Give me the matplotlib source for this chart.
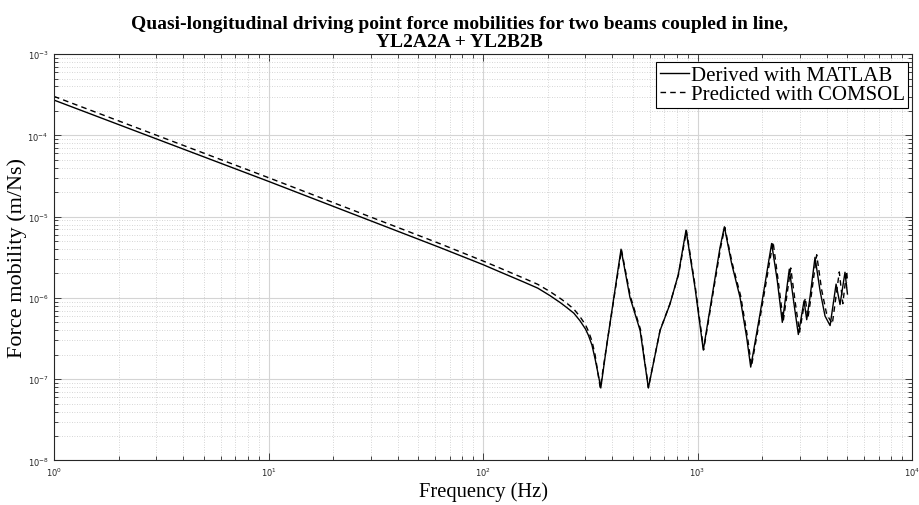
import matplotlib
matplotlib.use("Agg")
import matplotlib.pyplot as plt
import numpy as np
from matplotlib.ticker import LogLocator, NullFormatter, FixedLocator

# Frequencies (Hz) and mobilities (m/Ns)
freq_matlab = [1, 10, 63, 100, 120, 154, 180, 205, 230, 246, 265, 283, 300, 310, 322,
               333, 345, 354, 377, 440, 484, 540,
               590, 669, 744, 814, 884, 973, 1064, 1273, 1334, 1443, 1578, 1695, 1770,
               1955, 2216, 2355, 2485, 2679, 2818, 2951, 3138, 3229, 3345, 3530, 3725,
               3930, 4150, 4426, 4617, 4870, 5000]
mob_matlab = [2.72e-4, 2.72e-5, 4.17e-6, 2.57e-6, 2.09e-6, 1.58e-6, 1.32e-6, 1.07e-6,
              8.7e-7, 7.6e-7, 6.5e-7, 5.25e-7, 4.17e-7, 3.47e-7, 2.63e-7,
              1.78e-7, 1.12e-7, 7.8e-8, 2.57e-7, 3.98e-6, 1.02e-6, 3.98e-7,
              7.8e-8, 3.98e-7, 8.4e-7, 1.95e-6, 6.84e-6, 1.35e-6, 2.29e-7, 4.17e-6,
              7.5e-6, 2.63e-6, 1.02e-6, 3.27e-7, 1.41e-7,
              6.3e-7, 4.68e-6, 1.62e-6, 5.0e-7, 2.26e-6, 8.4e-7, 3.55e-7, 9.2e-7,
              5.4e-7, 1.02e-6, 3.16e-6, 1.23e-6,
              6.0e-7, 4.57e-7, 1.48e-6, 8.3e-7, 2.07e-6, 1.12e-6]

freq_comsol = [1, 10, 63, 100, 120, 154, 180, 205, 230, 246, 265, 283, 300, 310, 322,
               333, 343, 352, 377, 442, 486, 542,
               590, 669, 744, 816, 888, 975, 1068, 1280, 1340, 1450, 1590, 1710, 1785,
               1970, 2250, 2380, 2510, 2720, 2860, 2990, 3180, 3270, 3390, 3594, 3790,
               4000, 4250, 4581, 4757, 4958, 5000]
mob_comsol = [3.02e-4, 3.02e-5, 4.65e-6, 2.85e-6, 2.33e-6, 1.76e-6, 1.47e-6, 1.2e-6,
              9.8e-7, 8.6e-7, 7.3e-7, 5.9e-7, 4.7e-7, 3.9e-7, 2.95e-7,
              2.0e-7, 1.2e-7, 7.8e-8, 2.6e-7, 3.9e-6, 1.05e-6, 4.1e-7,
              7.9e-8, 4.0e-7, 8.5e-7, 1.95e-6, 6.7e-6, 1.4e-6, 2.3e-7, 4.1e-6,
              7.4e-6, 2.7e-6, 1.05e-6, 3.3e-7, 1.45e-7,
              6.3e-7, 4.9e-6, 1.6e-6, 5.2e-7, 2.34e-6, 8.5e-7, 3.8e-7, 1.0e-6,
              5.6e-7, 1.07e-6, 3.4e-6, 1.26e-6,
              6.3e-7, 4.8e-7, 2.09e-6, 8.5e-7, 2.14e-6, 1.62e-6]

title = ("Quasi-longitudinal driving point force mobilities for two beams coupled in line,\n"
         "YL2A2A + YL2B2B")

serif = ["Liberation Serif", "DejaVu Serif"]

fig = plt.figure(figsize=(9.19, 5.06), dpi=100)
ax = fig.add_axes([0.0588, 0.088, 0.9336, 0.803])

ax.plot(freq_matlab, mob_matlab, color="black", lw=1.0, ls="-", label="Derived with MATLAB")
ax.plot(freq_comsol, mob_comsol, color="black", lw=1.0, ls=(0, (4, 3)),
        label="Predicted with COMSOL")

ax.set_xscale("log")
ax.set_yscale("log")
ax.set_xlim(1, 1e4)
ax.set_ylim(1e-8, 1e-3)

ax.xaxis.set_major_locator(FixedLocator([1e0, 1e1, 1e2, 1e3, 1e4]))
ax.yaxis.set_major_locator(FixedLocator([1e-8, 1e-7, 1e-6, 1e-5, 1e-4, 1e-3]))
ax.xaxis.set_minor_locator(LogLocator(base=10, subs=np.arange(2, 10), numticks=20))
ax.yaxis.set_minor_locator(LogLocator(base=10, subs=np.arange(2, 10), numticks=20))
ax.xaxis.set_minor_formatter(NullFormatter())
ax.yaxis.set_minor_formatter(NullFormatter())
ax.set_xticklabels([r"$10^{%d}$" % e for e in range(0, 5)])
ax.set_yticklabels([r"$10^{%d}$" % e for e in range(-8, -2)])

ax.tick_params(which="both", direction="in", top=True, right=True, labelsize=6,
               colors="#262626", width=0.6)
ax.tick_params(which="major", length=5, pad=4)
ax.tick_params(which="minor", length=3)

ax.grid(which="major", color="#d4d4d4", lw=0.8, ls="-")
ax.grid(which="minor", color="#c8c8c8", lw=0.6, ls=(0, (1, 2)))
ax.set_axisbelow(True)
for s in ax.spines.values():
    s.set_linewidth(0.8)
    s.set_color("#262626")

ax.set_xlabel("Frequency (Hz)", family=serif, fontsize=14.8)
ax.xaxis.set_label_coords(0.5, -0.05)
ax.set_ylabel("Force mobility (m/Ns)", family=serif, fontsize=16)
ax.yaxis.set_label_coords(-0.0315, 0.5)
ax.set_title(title, family=serif, fontsize=14, fontweight="bold", pad=6,
             linespacing=1.05, x=0.473)

leg = ax.legend(loc="upper right", bbox_to_anchor=(0.9953, 0.9803), borderaxespad=0,
                prop={"family": serif, "size": 15}, fancybox=False,
                framealpha=1, edgecolor="black", borderpad=0.15, handlelength=1.4,
                handletextpad=0.1, labelspacing=0.0)
leg.get_frame().set_linewidth(0.8)

fig.savefig("out.png", dpi=100)
